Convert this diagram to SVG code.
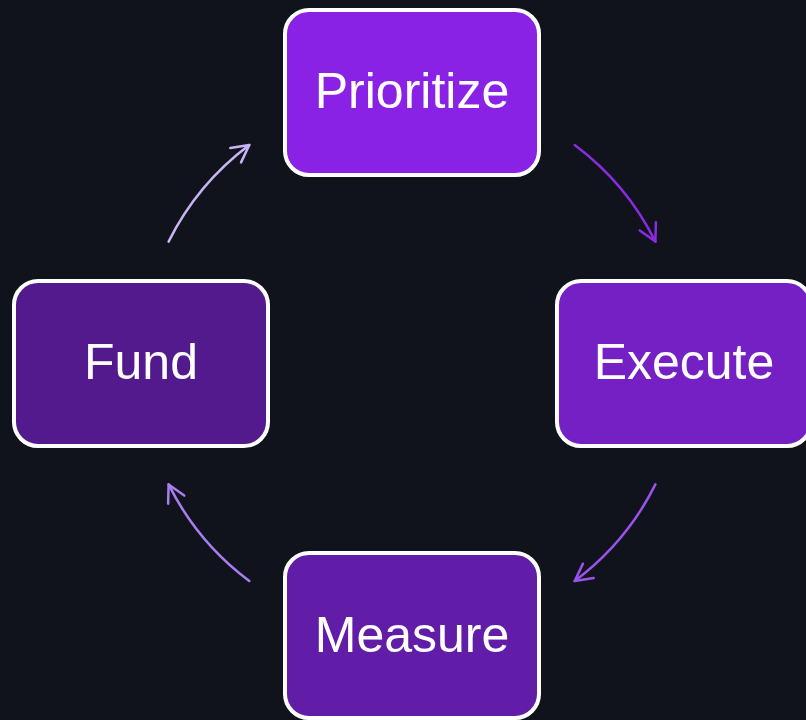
<svg xmlns="http://www.w3.org/2000/svg" width="806" height="720" viewBox="0 0 806 720">
  <defs>
    <style>
      .node rect { stroke: #ffffff; stroke-width: 4; }
      .node text { font-family: "Liberation Sans", Arial, sans-serif; font-size: 50px; fill: #ffffff; text-anchor: middle; }
      .edge { fill: none; stroke-width: 2.5; stroke-linecap: round; }
      .head { fill: none; stroke-width: 2.5; stroke-linecap: round; stroke-linejoin: round; }
    </style>
    <marker id="ah1" markerUnits="userSpaceOnUse" markerWidth="40" markerHeight="40" refX="0" refY="0" viewBox="-20 -20 40 40" orient="auto" overflow="visible">
      <path class="head" d="M-17,-9 L0,0 L-17,9" stroke="#8a2be2"/>
    </marker>
    <marker id="ah2" markerUnits="userSpaceOnUse" markerWidth="40" markerHeight="40" refX="0" refY="0" viewBox="-20 -20 40 40" orient="auto" overflow="visible">
      <path class="head" d="M-17,-9 L0,0 L-17,9" stroke="#9a52ec"/>
    </marker>
    <marker id="ah3" markerUnits="userSpaceOnUse" markerWidth="40" markerHeight="40" refX="0" refY="0" viewBox="-20 -20 40 40" orient="auto" overflow="visible">
      <path class="head" d="M-17,-9 L0,0 L-17,9" stroke="#a77ef0"/>
    </marker>
    <marker id="ah4" markerUnits="userSpaceOnUse" markerWidth="40" markerHeight="40" refX="0" refY="0" viewBox="-20 -20 40 40" orient="auto" overflow="visible">
      <path class="head" d="M-17,-9 L0,0 L-17,9" stroke="#c8b4f4"/>
    </marker>
  </defs>

  <rect x="0" y="0" width="806" height="720" fill="#11131c"/>

  <!-- cycle connectors: arcs on a circle of radius 272 around (412,363) -->
  <g id="connectors">
    <path class="edge" stroke="#8a2be2" d="M574.7,145 A272,272 0 0 1 655.4,241.6" marker-end="url(#ah1)"/>
    <path class="edge" stroke="#9a52ec" d="M655.4,484.4 A272,272 0 0 1 574.7,581" marker-end="url(#ah2)"/>
    <path class="edge" stroke="#a77ef0" d="M249.3,581 A272,272 0 0 1 168.6,484.4" marker-end="url(#ah3)"/>
    <path class="edge" stroke="#c8b4f4" d="M168.6,241.6 A272,272 0 0 1 249.3,145" marker-end="url(#ah4)"/>
  </g>

  <g id="node-prioritize" class="node">
    <rect x="285" y="10" width="254" height="165" rx="24" fill="#8a22e6"/>
    <text x="412" y="108">Prioritize</text>
  </g>

  <g id="node-execute" class="node">
    <rect x="557" y="281" width="254" height="165" rx="24" fill="#7420c5"/>
    <text x="684" y="379">Execute</text>
  </g>

  <g id="node-measure" class="node">
    <rect x="285" y="553" width="254" height="165" rx="24" fill="#621da8"/>
    <text x="412" y="652">Measure</text>
  </g>

  <g id="node-fund" class="node">
    <rect x="14" y="281" width="254" height="165" rx="24" fill="#521a8c"/>
    <text x="141" y="379">Fund</text>
  </g>
</svg>
